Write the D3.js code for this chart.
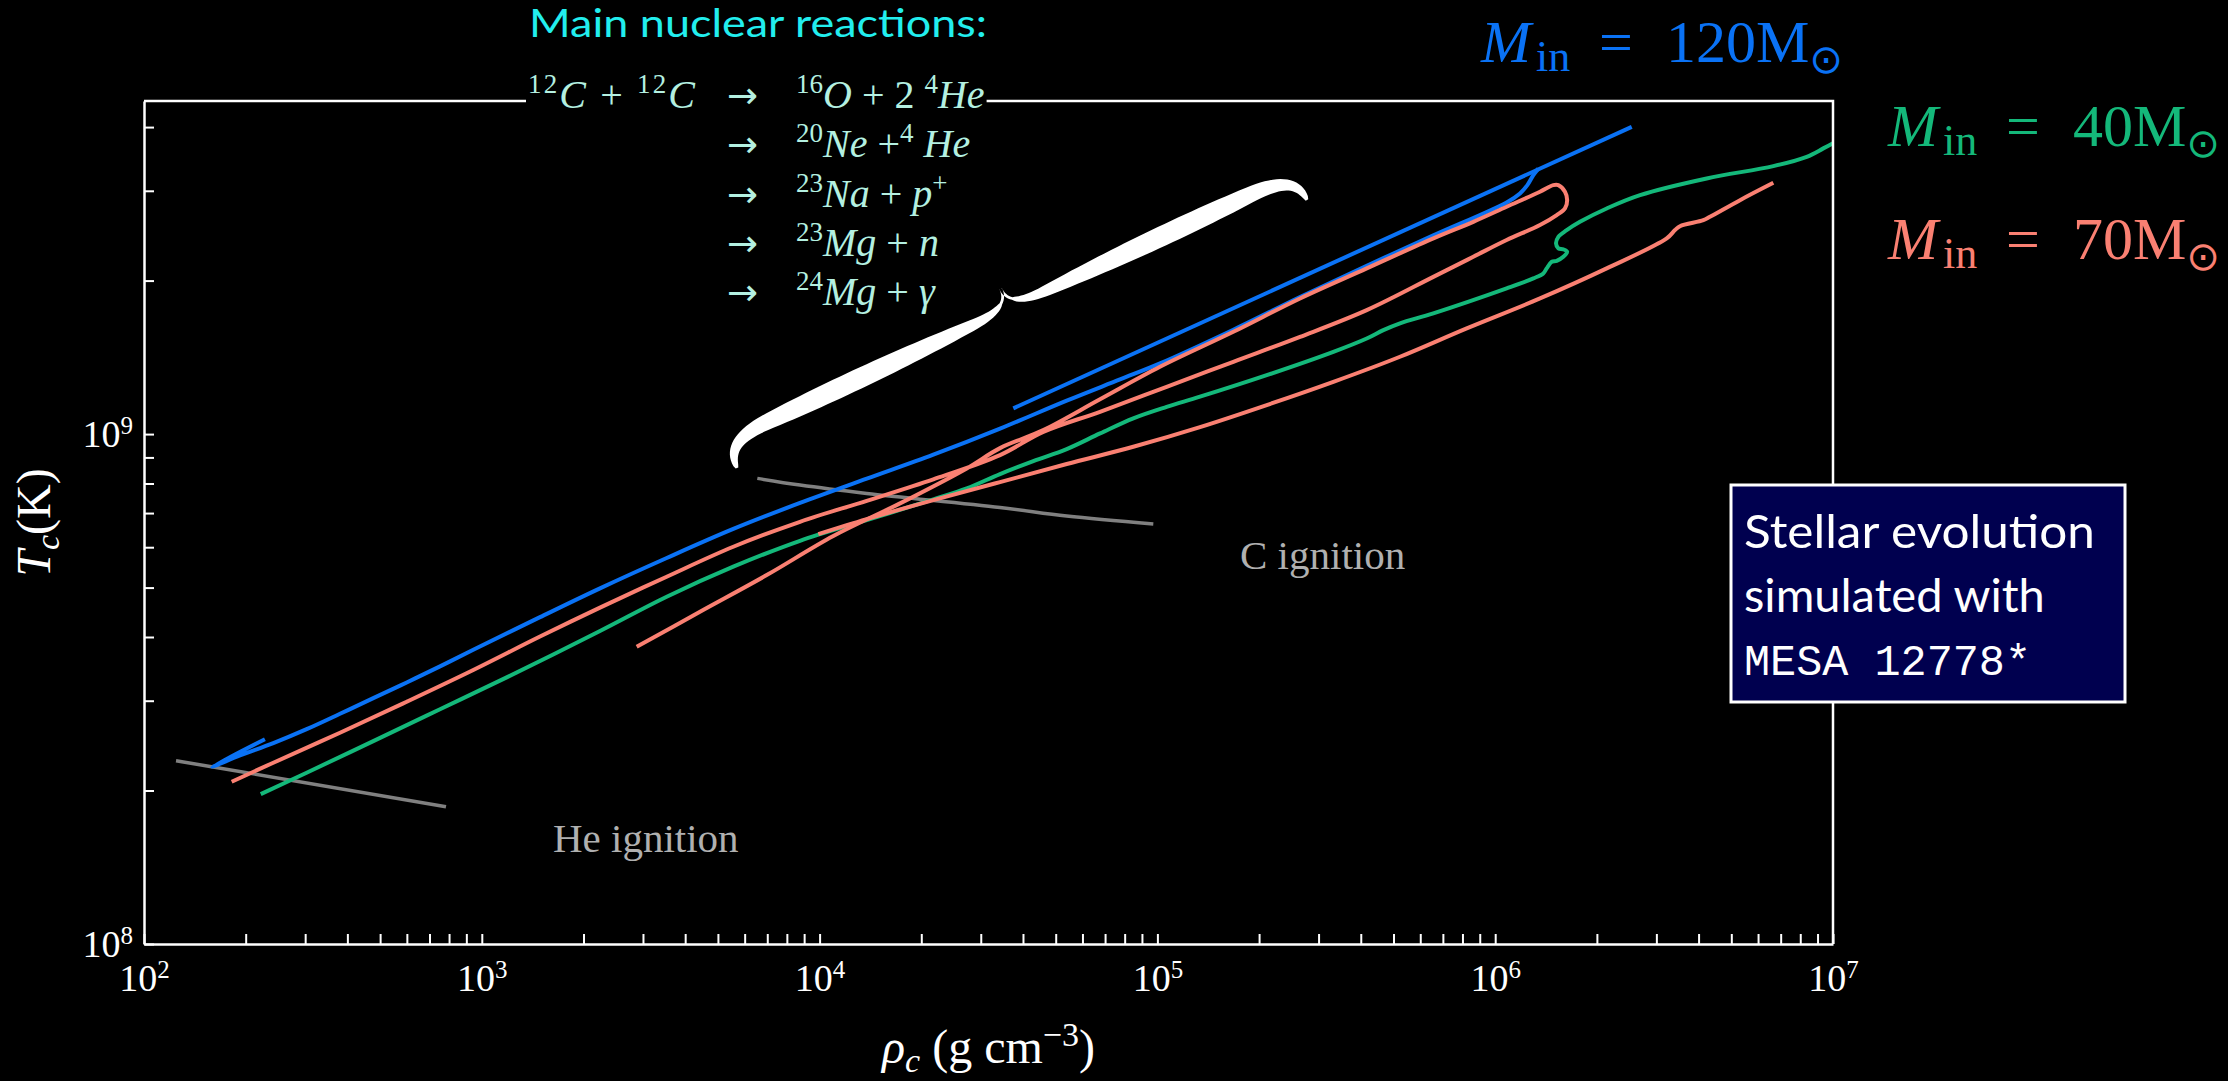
<!DOCTYPE html>
<html>
<head>
<meta charset="utf-8">
<script src="https://cdn.jsdelivr.net/npm/d3@7/dist/d3.min.js"></script>
<style>
  html, body { margin: 0; padding: 0; background: #000; }
  svg { display: block; }
</style>
</head>
<body>
<script>
// central density (g cm^-3) and central temperature (K)

// 120 Msun, main track (starts with the small hook near He ignition)
var rho120 = [228, 159, 192.4, 241.4, 303, 380.4, 477.3, 599.4, 752.1, 943.6, 1487, 2238, 3527, 5553,
  8750, 13790, 21710, 34210, 53890, 77500, 101800, 167800, 264400, 416500, 655900,
  1.081e6, 1.184e6, 1.245e6, 1.297e6, 1.342e6];
var T120 = [2.52e8, 2.227e8, 2.343e8, 2.477e8, 2.638e8, 2.828e8, 3.035e8, 3.258e8, 3.503e8, 3.775e8,
  4.375e8, 4.983e8, 5.715e8, 6.516e8, 7.328e8, 8.176e8, 9.113e8, 1.025e9, 1.163e9, 1.28e9,
  1.376e9, 1.602e9, 1.857e9, 2.139e9, 2.453e9, 2.847e9, 2.965e9, 3.078e9, 3.22e9, 3.316e9];
// 120 Msun, late straight segment
var rho120b = [37450, 2.536e6];
var T120b = [1.123e9, 4.005e9];

// 40 Msun
var rho40 = [221.6, 303, 477.3, 752.1, 1185, 2238, 3527, 5553, 8750, 13790, 21710, 27260,
  34210, 42920, 53890, 67630, 84850, 106500, 133700, 210700, 331800, 416500, 466500, 522600,
  655900, 1.081e6, 1.297e6, 1.388e6, 1.42e6, 1.47e6, 1.521e6, 1.591e6, 1.633e6, 1.591e6,
  1.538e6, 1.514e6, 1.538e6, 1.628e6, 1.782e6, 2.138e6, 2.684e6, 4.227e6, 6.658e6, 8.36e6,
  9.36e6, 1.0e7];
var T40 = [1.968e8, 2.167e8, 2.5e8, 2.886e8, 3.333e8, 4.109e8, 4.797e8, 5.494e8, 6.177e8,
  6.782e8, 7.447e8, 7.825e8, 8.349e8, 8.853e8, 9.346e8, 1.003e9, 1.074e9, 1.131e9, 1.184e9,
  1.305e9, 1.45e9, 1.54e9, 1.599e9, 1.649e9, 1.725e9, 1.931e9, 2.02e9, 2.066e9, 2.113e9,
  2.177e9, 2.187e9, 2.227e9, 2.278e9, 2.303e9, 2.313e9, 2.366e9, 2.437e9, 2.512e9, 2.608e9,
  2.77e9, 2.942e9, 3.172e9, 3.354e9, 3.498e9, 3.633e9, 3.72e9];

// 70 Msun, first track (up to the turnaround near 1.6e6 and back down)
var rho70a = [181.8, 241.4, 380.4, 599.4, 943.6, 1487, 2238, 3527, 5553, 8750, 13790, 21710, 34210,
  45940, 67630, 106500, 167800, 264400, 416500, 655900, 861300, 1.081e6, 1.357e6, 1.521e6,
  1.609e6, 1.633e6, 1.609e6, 1.538e6, 1.486e6, 1.357e6, 1.081e6, 861300, 655900, 416500,
  264400, 167800, 101800, 67630, 45940, 34210, 27260, 17300, 10980, 6973, 4425, 2874];
var T70a = [2.081e8, 2.267e8, 2.596e8, 2.986e8, 3.446e8, 4.008e8, 4.568e8, 5.252e8, 6.012e8, 6.73e8,
  7.399e8, 8.151e8, 9.095e8, 1.01e9, 1.106e9, 1.238e9, 1.386e9, 1.551e9, 1.75e9, 2.034e9,
  2.227e9, 2.402e9, 2.57e9, 2.688e9, 2.77e9, 2.876e9, 2.987e9, 3.078e9, 3.078e9, 2.987e9,
  2.791e9, 2.608e9, 2.42e9, 2.113e9, 1.845e9, 1.587e9, 1.355e9, 1.17e9, 1.018e9, 9.387e8,
  8.565e8, 7.313e8, 6.31e8, 5.29e8, 4.483e8, 3.827e8];
// 70 Msun, second track
var rho70b = [9913, 13790, 21710, 34210, 53890, 84850, 133700, 210700, 331800, 522600, 823500,
  1.357e6, 2.138e6, 3.219e6, 3.406e6, 3.524e6, 4.131e6, 4.323e6, 5.305e6, 6.658e6];
var T70b = [6.367e8, 6.812e8, 7.422e8, 8.052e8, 8.735e8, 9.443e8, 1.032e9, 1.14e9, 1.266e9, 1.418e9,
  1.612e9, 1.845e9, 2.113e9, 2.42e9, 2.512e9, 2.557e9, 2.627e9, 2.667e9, 2.876e9, 3.11e9];

// ignition lines
var heIgnRho = [124.4, 783.4];
var heIgnT = [2.288e8, 1.859e8];
var cIgnRho = [6541, 8750, 13790, 34210, 53890, 97250];
var cIgnT = [8.187e8, 7.943e8, 7.649e8, 7.178e8, 6.905e8, 6.66e8];

var massLabels = ["120", "40", "70"];
var reactants = [["12", "sup"], ["C", "it"], [" + ", ""], ["12", "sup"], ["C", "it"]];
var products = [
  [["16", "sup"], ["O", "it"], [" + 2 ", ""], ["4", "sup"], ["He", "it"]],
  [["20", "sup"], ["Ne", "it"], [" +", ""], ["4", "sup"], [" He", "it"]],
  [["23", "sup"], ["Na", "it"], [" + ", ""], ["p", "it"], ["+", "sup"]],
  [["23", "sup"], ["Mg", "it"], [" + ", ""], ["n", "it"]],
  [["24", "sup"], ["Mg", "it"], [" + ", ""], ["γ", "it"]]
];
var boxLines = ["Stellar evolution", "simulated with", "MESA 12778*"];

// ---- layout ----
var width = 2228, height = 1081;
var plot = {left: 144, right: 1833, top: 101, bottom: 944};
var blue = "#0a72f5", green = "#14b87a", salmon = "#fa8072", gray = "#808080";
var serif = "'Liberation Serif', 'Times New Roman', serif";

var svg = d3.select("body").append("svg")
    .attr("width", width)
    .attr("height", height)
    .style("background", "#000");

var x = d3.scaleLog().domain([1e2, 1e7]).range([plot.left, plot.right]);
var y = d3.scaleLog().domain([1e8, 4.5e9]).range([plot.bottom, plot.top]);

svg.append("clipPath").attr("id", "clip")
  .append("rect")
    .attr("x", plot.left).attr("y", plot.top)
    .attr("width", plot.right - plot.left).attr("height", plot.bottom - plot.top);

var line = d3.line()
    .x(function(d) { return x(d[0]); })
    .y(function(d) { return y(d[1]); })
    .curve(d3.curveCatmullRom.alpha(0.5));

var tracks = [
  {rho: heIgnRho, T: heIgnT, color: gray, w: 3.5},
  {rho: cIgnRho, T: cIgnT, color: gray, w: 3.5},
  {rho: rho120, T: T120, color: blue, w: 4},
  {rho: rho120b, T: T120b, color: blue, w: 4},
  {rho: rho40, T: T40, color: green, w: 4},
  {rho: rho70a, T: T70a, color: salmon, w: 4},
  {rho: rho70b, T: T70b, color: salmon, w: 4}
];

svg.append("g")
    .attr("clip-path", "url(#clip)")
  .selectAll("path")
    .data(tracks)
    .enter()
  .append("path")
    .attr("d", function(d) { return line(d3.zip(d.rho, d.T)); })
    .attr("fill", "none")
    .attr("stroke", function(d) { return d.color; })
    .attr("stroke-width", function(d) { return d.w; })
    .attr("stroke-linejoin", "round");

// ---- axes ----
function isDecade(v) {
  var e = Math.log10(v);
  return Math.abs(e - Math.round(e)) < 1e-6;
}
function powLabel(t, v) {
  t.append("tspan").text("10");
  t.append("tspan").attr("font-size", 25).attr("dy", -13).text(Math.round(Math.log10(v)));
}

var gx = svg.append("g")
    .attr("transform", "translate(0," + plot.bottom + ")")
    .call(d3.axisBottom(x).tickValues(x.ticks()).tickSizeInner(-10).tickSizeOuter(0).tickFormat(""));
gx.selectAll(".tick text").remove();
gx.selectAll(".tick").filter(isDecade).append("text")
    .attr("y", 47).attr("fill", "#fff").attr("text-anchor", "middle")
    .each(function(d) { powLabel(d3.select(this), d); });

var gy = svg.append("g")
    .attr("transform", "translate(" + plot.left + ",0)")
    .call(d3.axisLeft(y).tickValues(y.ticks()).tickSizeInner(-10).tickSizeOuter(0).tickFormat(""));
gy.selectAll(".tick text").remove();
gy.selectAll(".tick").filter(isDecade).append("text")
    .attr("x", -11).attr("y", 12).attr("fill", "#fff").attr("text-anchor", "end")
    .each(function(d) { powLabel(d3.select(this), d); });

[gx, gy].forEach(function(g) {
  g.attr("color", "#fff").attr("font-family", serif).attr("font-size", 38);
  g.select(".domain").attr("stroke-width", 2.5);
  g.selectAll(".tick line").attr("stroke-width", 2);
});

// top and right spines
svg.append("path")
    .attr("d", "M" + plot.left + "," + plot.top + "H" + plot.right + "V" + plot.bottom)
    .attr("fill", "none").attr("stroke", "#fff").attr("stroke-width", 2.5);

// math-ish text helper: parts are [text, style]
function addParts(text, parts, rise, drop, small) {
  var shift = 0;
  parts.forEach(function(p) {
    var ts = text.append("tspan").text(p[0]);
    var st = p[1], target = 0;
    if (st.indexOf("sup") >= 0) target = -rise;
    if (st.indexOf("sub") >= 0) target = drop;
    if (target !== shift) { ts.attr("dy", target - shift); shift = target; }
    if (target !== 0) ts.attr("font-size", small);
    if (st.indexOf("it") >= 0) ts.attr("font-style", "italic");
  });
}

// axis labels
var xl = svg.append("text")
    .attr("x", (plot.left + plot.right) / 2).attr("y", 1063)
    .attr("text-anchor", "middle").attr("fill", "#fff")
    .attr("font-family", serif).attr("font-size", 48)
    .style("white-space", "pre");
addParts(xl, [["ρ", "it"], ["c", "itsub"], [" (g cm", ""], ["−3", "sup"], [")", ""]], 17, 9, 34);

var yl = svg.append("text")
    .attr("transform", "translate(50," + (plot.top + plot.bottom) / 2 + ") rotate(-90)")
    .attr("text-anchor", "middle").attr("fill", "#fff")
    .attr("font-family", serif).attr("font-size", 48);
addParts(yl, [["T", "it"], ["c", "itsub"], ["(K)", ""]], 17, 9, 34);

// ignition labels
svg.append("text").attr("x", 553).attr("y", 852)
    .attr("fill", "#b0b0b0").attr("font-family", serif).attr("font-size", 41)
    .text("He ignition");
svg.append("text").attr("x", 1240).attr("y", 569)
    .attr("fill", "#b0b0b0").attr("font-family", serif).attr("font-size", 41)
    .text("C ignition");

// ---- reactions ----
svg.append("text").attr("x", 529).attr("y", 37)
    .attr("fill", "#22eeee").attr("font-family", "Lato, 'Open Sans', sans-serif").attr("font-size", 39)
    .attr("textLength", 458).attr("lengthAdjust", "spacingAndGlyphs")
    .text("Main nuclear reactions:");

var rx = svg.append("g").attr("fill", "#b4f0e1").attr("font-family", serif).attr("font-size", 40);
var firstLine = rx.append("g");
var r0 = firstLine.append("text").attr("x", 528).attr("y", 108)
    .attr("textLength", 167).attr("lengthAdjust", "spacing")
    .style("white-space", "pre");
addParts(r0, reactants, 15, 0, 27);
products.forEach(function(p, i) {
  var g = i === 0 ? firstLine : rx;
  var by = 108 + i * 49.3;
  g.append("text").attr("x", 727).attr("y", by)
      .attr("font-family", "'DejaVu Sans', sans-serif").attr("font-size", 37)
      .text("→");
  var t = g.append("text").attr("x", 796).attr("y", by).style("white-space", "pre");
  addParts(t, p, 15, 0, 27);
});
// the first reaction line sits on the top spine: give it a black background
var bb = firstLine.node().getBBox();
firstLine.insert("rect", ":first-child")
    .attr("x", bb.x - 2).attr("y", bb.y).attr("width", bb.width + 4).attr("height", bb.height)
    .attr("fill", "#000");

// ---- brace ----
function bracePath(p1, p2, armOff, depth, halfW) {
  var dx = p2[0] - p1[0], dy = p2[1] - p1[1], L = Math.hypot(dx, dy);
  var ux = dx / L, uy = dy / L, vx = -uy, vy = ux;
  var half = L / 2, c1 = 50, c2 = 42, i, t;
  function bez(a, b, c, d, t) { var m = 1 - t; return m*m*m*a + 3*m*m*t*b + 3*m*t*t*c + t*t*t*d; }
  var pts = [];
  for (i = 0; i <= 20; i++) { t = i / 20;
    pts.push([bez(0, 0, c1 * 0.3, c1, t), bez(0, -armOff * 0.7, -armOff, -armOff, t)]); }
  for (i = 1; i <= 30; i++) { t = i / 30; pts.push([c1 + (half - c2 - c1) * t, -armOff]); }
  for (i = 1; i <= 20; i++) { t = i / 20;
    pts.push([bez(half - c2, half - c2 * 0.3, half, half, t),
              bez(-armOff, -armOff, -armOff - (depth - armOff) * 0.3, -depth, t)]); }
  var len = [0];
  for (i = 1; i < pts.length; i++) len.push(len[i-1] + Math.hypot(pts[i][0]-pts[i-1][0], pts[i][1]-pts[i-1][1]));
  var total = len[len.length - 1];
  function side(mirror) {
    var a = [], b = [];
    pts.forEach(function(p, k) {
      var p0 = pts[Math.max(0, k - 1)], pN = pts[Math.min(pts.length - 1, k + 1)];
      var tx = pN[0] - p0[0], ty = pN[1] - p0[1], tl = Math.hypot(tx, ty);
      var nx = -ty / tl, ny = tx / tl;
      var f = len[k] / total;
      var w = 1.4 + halfW * Math.pow(Math.sin(Math.PI * Math.min(1, f * 1.05)), 0.6) * (1 - 0.2 * f);
      var s1 = p[0] + nx * w, t1 = p[1] + ny * w, s2 = p[0] - nx * w, t2 = p[1] - ny * w;
      if (mirror) { s1 = L - s1; s2 = L - s2; }
      a.push([p1[0] + ux * s1 + vx * t1, p1[1] + uy * s1 + vy * t1]);
      b.push([p1[0] + ux * s2 + vx * t2, p1[1] + uy * s2 + vy * t2]);
    });
    return a.concat(b.reverse());
  }
  var shape = d3.line().curve(d3.curveLinearClosed);
  return shape(side(false)) + shape(side(true));
}
svg.append("path")
    .attr("d", bracePath([737, 468], [1307, 200], 29, 50, 9.5))
    .attr("fill", "#fff");

// ---- mass labels ----
var labelPos = [[1481, 62], [1888, 146], [1888, 259]];
var labelCol = [blue, green, salmon];
massLabels.forEach(function(m, i) {
  var x0 = labelPos[i][0], y0 = labelPos[i][1];
  var t = svg.append("text").attr("x", x0).attr("y", y0)
      .attr("fill", labelCol[i]).attr("font-family", serif).attr("font-size", 60);
  t.append("tspan").attr("font-style", "italic").text("M");
  t.append("tspan").attr("x", x0 + 55).attr("dy", 9).attr("font-size", 44).text("in");
  t.append("tspan").attr("x", x0 + 118).attr("dy", -9).text("=");
  t.append("tspan").attr("x", x0 + 185).text(m + "M");
  t.append("tspan").attr("dy", 11).attr("font-size", 40)
      .attr("font-family", "'DejaVu Sans', sans-serif").text("⊙");
});

// ---- MESA box ----
svg.append("rect")
    .attr("x", 1731).attr("y", 485).attr("width", 394).attr("height", 217)
    .attr("fill", "#00004f").attr("stroke", "#fff").attr("stroke-width", 3);
var boxFonts = ["Lato, sans-serif", "Lato, sans-serif", "'Liberation Mono', 'Courier New', monospace"];
var boxLen = [351, null, 287];
var boxSize = [47, 47, 44];
boxLines.forEach(function(s, i) {
  var t = svg.append("text")
      .attr("x", 1744).attr("y", 548 + i * 63.5)
      .attr("fill", "#fff").attr("font-family", boxFonts[i]).attr("font-size", boxSize[i])
      .style("white-space", "pre")
      .text(s);
  if (boxLen[i]) t.attr("textLength", boxLen[i]).attr("lengthAdjust", "spacingAndGlyphs");
});
</script>
</body>
</html>
